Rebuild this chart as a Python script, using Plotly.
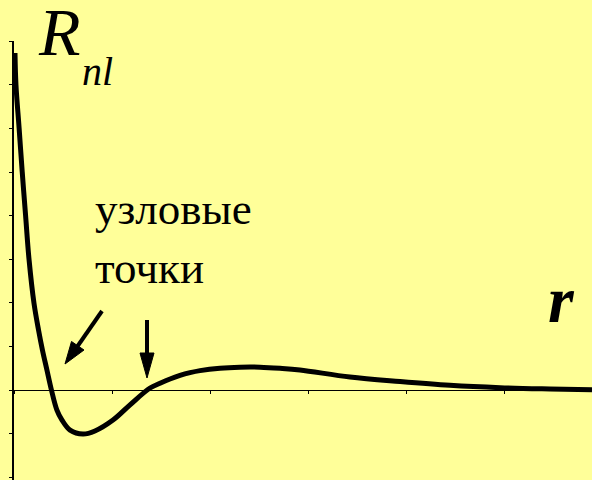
import plotly.graph_objects as go

# Curve values (r in arbitrary units, R_nl in arbitrary units)
r_vals = [0.05, 0.10, 0.26, 0.42, 0.59, 0.77, 1.02, 1.25, 1.45, 1.68, 1.91, 2.19,
          2.45, 2.86, 3.52, 4.13, 5.05, 5.92, 6.94, 7.45, 7.96, 8.47, 8.98, 9.49,
          10.51, 11.53, 12.55, 13.57, 14.59, 17.14, 19.69, 22.24, 24.80, 27.35, 29.49]
R_vals = [7.73, 7.00, 6.01, 5.00, 4.01, 2.98, 1.99, 1.38, 0.92, 0.46, 0.00, -0.46,
          -0.69, -0.92, -1.01, -0.94, -0.69, -0.34, 0.046, 0.154, 0.252, 0.333, 0.397, 0.445,
          0.50, 0.523, 0.523, 0.498, 0.459, 0.298, 0.195, 0.108, 0.053, 0.023, 0.005]

x_ticks = [0, 5, 10, 15, 20, 25]
y_ticks = [-2, -1, 0, 1, 2, 3, 4, 5, 6, 7, 8]

W, H = 592, 480
L, T = 14, 41
X0, Y0 = 14, 390          # pixel position of origin
PX_X, PX_Y = 19.6, 43.6   # pixels per unit

x_range = [0, (W - X0) / PX_X]
y_range = [-(H - Y0) / PX_Y, (Y0 - T) / PX_Y]

def dx(px):
    return (px - X0) / PX_X

def dy(py):
    return (Y0 - py) / PX_Y

BG = "#FFFF99"
SERIF = "Liberation Serif"

def serif(t):
    return f"<span style='font-family:Liberation Serif'>{t}</span>"

fig = go.Figure()
fig.add_trace(go.Scatter(
    x=r_vals, y=R_vals, mode="lines",
    line=dict(color="black", width=5, shape="spline", smoothing=1.0),
    hoverinfo="skip", showlegend=False))

shapes = []
# arrow 1 (diagonal)
shapes.append(dict(type="line", xref="x", yref="y",
                   x0=dx(102), y0=dy(311), x1=dx(77), y1=dy(347),
                   line=dict(color="black", width=4)))
shapes.append(dict(type="path", xref="x", yref="y",
                   path=f"M {dx(65)},{dy(364)} L {dx(84)},{dy(350)} L {dx(71.5)},{dy(341.5)} Z",
                   fillcolor="black", line=dict(color="black", width=1)))
# arrow 2 (vertical)
shapes.append(dict(type="line", xref="x", yref="y",
                   x0=dx(147), y0=dy(320), x1=dx(147), y1=dy(355),
                   line=dict(color="black", width=4)))
shapes.append(dict(type="path", xref="x", yref="y",
                   path=f"M {dx(147)},{dy(378)} L {dx(140)},{dy(353)} L {dx(154)},{dy(353)} Z",
                   fillcolor="black", line=dict(color="black", width=1)))

annotations = [
    dict(text=serif("<i>R</i>"), x=dx(36), y=dy(72), xref="x", yref="y", xanchor="left", yanchor="bottom",
         showarrow=False, font=dict(family=SERIF, size=68, color="black")),
    dict(text=serif("<i>nl</i>"), x=dx(80), y=dy(96), xref="x", yref="y", xanchor="left", yanchor="bottom",
         showarrow=False, font=dict(family=SERIF, size=40, color="black")),
    dict(text=serif("<b><i>r</i></b>"), x=dx(546), y=dy(338), xref="x", yref="y", xanchor="left", yanchor="bottom",
         showarrow=False, font=dict(family=SERIF, size=66, color="black")),
    dict(text=serif("узловые") + "<br>" + serif("точки"), x=dx(93), y=dy(182), xref="x", yref="y",
         xanchor="left", yanchor="top", align="left", showarrow=False,
         font=dict(family=SERIF, size=45, color="black")),
]

pos = (0 - y_range[0]) / (y_range[1] - y_range[0])

fig.update_layout(
    width=W, height=H,
    margin=dict(l=L, r=0, t=T, b=0, pad=0),
    paper_bgcolor=BG, plot_bgcolor=BG,
    font=dict(family=SERIF),
    shapes=shapes, annotations=annotations,
    xaxis=dict(range=x_range, anchor="free", position=pos, showline=True, linecolor="black",
               linewidth=1, ticks="outside", ticklen=3, tickwidth=1, tickcolor="black",
               tickvals=x_ticks, showticklabels=False, showgrid=False, zeroline=False,
               layer="below traces", fixedrange=True, automargin=False),
    yaxis=dict(range=y_range, showline=True, linecolor="black", linewidth=1.5,
               ticks="outside", ticklen=3, tickwidth=1, tickcolor="black",
               tickvals=y_ticks, showticklabels=False, showgrid=False, zeroline=False,
               layer="below traces", fixedrange=True, automargin=False),
)

fig.write_html("out.html", config={"displayModeBar": False},
               post_script="document.body.style.margin='0';document.body.style.overflow='hidden';document.body.style.background='#FFFF99';")
